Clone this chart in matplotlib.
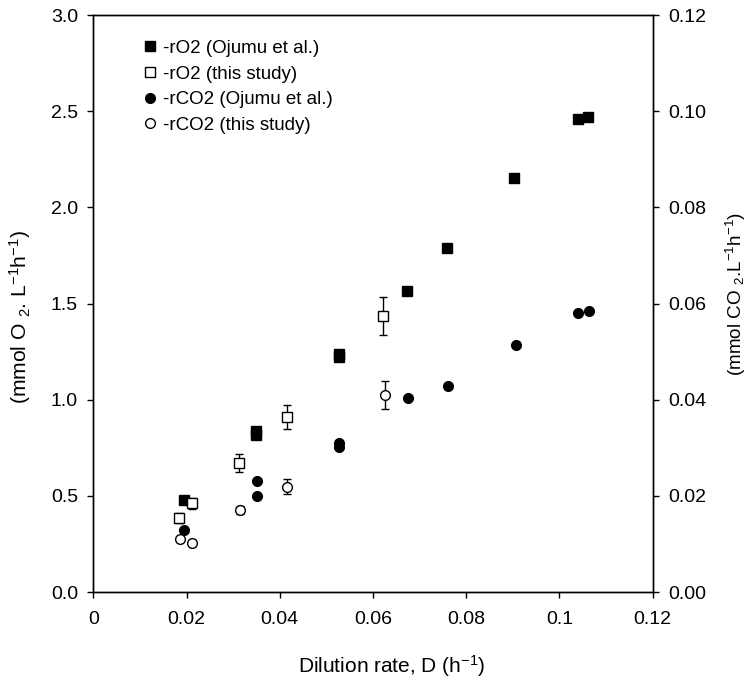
import matplotlib
matplotlib.use("Agg")
import matplotlib.pyplot as plt
import numpy as np

# -rO2, Ojumu et al. (left axis)
d_o2_lit = [0.0195, 0.0350, 0.0350, 0.0526, 0.0526, 0.0673, 0.0759, 0.0903, 0.1040, 0.1062]
o2_lit = [0.478, 0.815, 0.835, 1.222, 1.240, 1.565, 1.789, 2.151, 2.460, 2.472]

# -rO2, this study (left axis)
d_o2_this = [0.0184, 0.0212, 0.0313, 0.0415, 0.0621]
o2_this = [0.386, 0.461, 0.669, 0.908, 1.435]
o2_this_err = [0.026, 0.03, 0.047, 0.063, 0.10]

# -rCO2, Ojumu et al. (right axis)
d_co2_lit = [0.0195, 0.0351, 0.0351, 0.0527, 0.0527, 0.0676, 0.0761, 0.0906, 0.1040, 0.1064]
co2_lit = [0.0129, 0.0200, 0.0231, 0.0302, 0.0310, 0.0403, 0.0428, 0.0514, 0.0580, 0.0585]

# -rCO2, this study (right axis)
d_co2_this = [0.0186, 0.0211, 0.0315, 0.0415, 0.0626]
co2_this = [0.0110, 0.0101, 0.0171, 0.0219, 0.0410]
co2_this_err = [0.0006, 0.0006, 0.0008, 0.0015, 0.0029]

plt.rcParams.update({
    'font.family': 'Liberation Sans',
    'font.size': 14,
    'mathtext.default': 'regular',
})

fig = plt.figure(figsize=(7.47, 6.8), dpi=100)
ax = fig.add_axes([0.1249, 0.1294, 0.7489, 0.8485])
ax2 = ax.twinx()

h1, = ax.plot(d_o2_lit, o2_lit, 's', color='black', ms=7.5)
h2 = ax.errorbar(d_o2_this, o2_this, yerr=o2_this_err, fmt='s', mfc='white', mec='black',
                 ecolor='black', ms=7, mew=1.0, elinewidth=1.0, capsize=3, capthick=1.0)
h3, = ax2.plot(d_co2_lit, co2_lit, 'o', color='black', ms=7)
h4 = ax2.errorbar(d_co2_this, co2_this, yerr=co2_this_err, fmt='o', mfc='white', mec='black',
                  ecolor='black', ms=7, mew=1.0, elinewidth=1.0, capsize=3, capthick=1.0)

ax.set_xlim(0, 0.12)
ax.set_ylim(0, 3.0)
ax2.set_ylim(0, 0.12)

ax.set_xticks([0, 0.02, 0.04, 0.06, 0.08, 0.1, 0.12])
ax.set_xticklabels(['0', '0.02', '0.04', '0.06', '0.08', '0.1', '0.12'])
ax.set_yticks(np.arange(0, 3.01, 0.5))
ax.set_yticklabels(['%.1f' % v for v in np.arange(0, 3.01, 0.5)])
ax2.set_yticks(np.arange(0, 0.121, 0.02))
ax2.set_yticklabels(['%.2f' % v for v in np.arange(0, 0.121, 0.02)])

for a in (ax, ax2):
    a.tick_params(direction='out', length=4, width=1, pad=7, labelsize=14)
    for s in a.spines.values():
        s.set_linewidth(1.0)
ax.tick_params(axis='x', pad=10)

ax.set_xlabel('Dilution rate, D (h$^{-1}$)', fontsize=15)
ax.xaxis.set_label_coords(0.533, -0.106)
ax.set_ylabel('(mmol O $_{2}$. L$^{-1}$h$^{-1}$)', fontsize=15.2)
ax.yaxis.set_label_coords(-0.107, 0.477)
ax2.set_ylabel('(mmol CO $_{2}$.L$^{-1}$h$^{-1}$)', fontsize=13.6)
ax2.yaxis.set_label_coords(1.127, 0.516)

ax.legend([h1, h2[0], h3, h4[0]],
          ['-rO2 (Ojumu et al.)', '-rO2 (this study)', '-rCO2 (Ojumu et al.)', '-rCO2 (this study)'],
          loc='upper left', bbox_to_anchor=(0.075, 0.97), frameon=False, fontsize=13.5,
          handlelength=0.8, handletextpad=0.3, labelspacing=0.45, borderaxespad=0)

plt.savefig('out.png', dpi=100)
plt.close()
